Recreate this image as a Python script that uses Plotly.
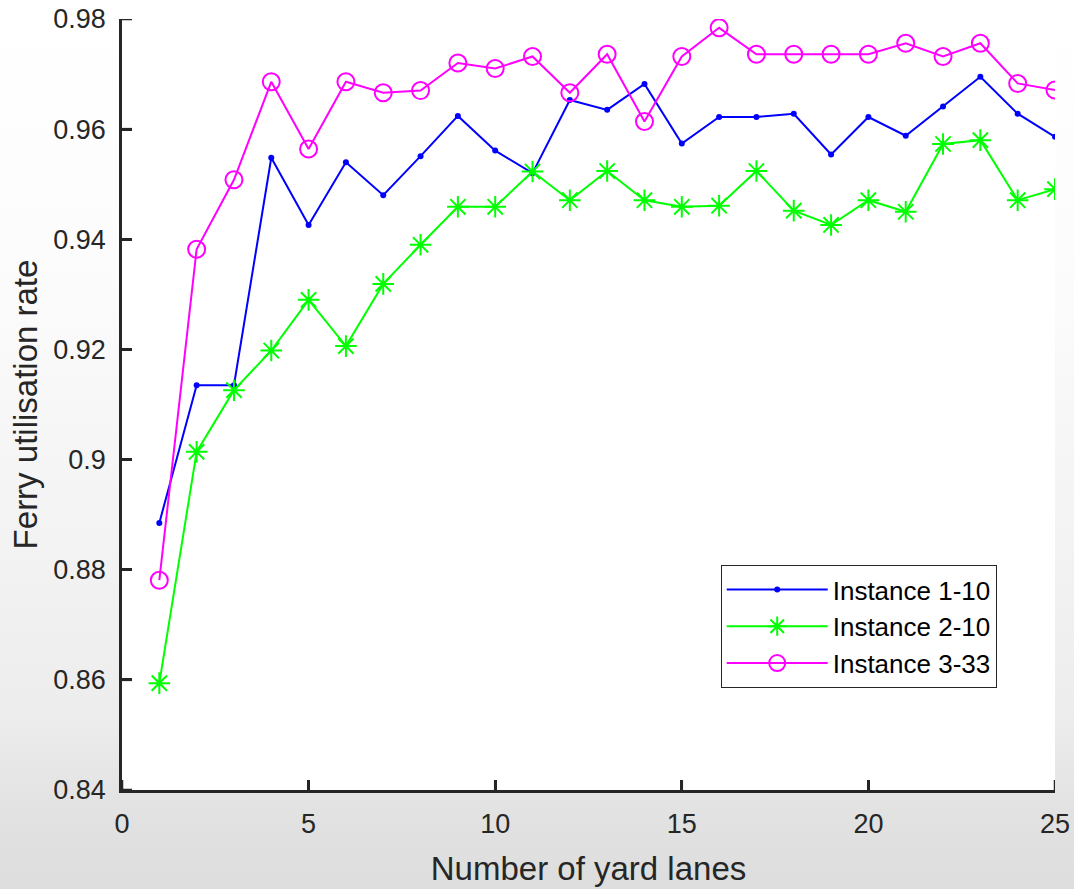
import base64
import plotly.graph_objects as go

lanes = list(range(1, 26))
instance_1_10 = [0.8885, 0.9135, 0.9135, 0.9548, 0.9426, 0.9540, 0.9480, 0.9551, 0.9624, 0.9561,
                 0.9520, 0.9653, 0.9635, 0.9682, 0.9574, 0.9622, 0.9622, 0.9628, 0.9554, 0.9622,
                 0.9588, 0.9641, 0.9695, 0.9628, 0.9586]
instance_2_10 = [0.8594, 0.9014, 0.9126, 0.9198, 0.9290, 0.9206, 0.9319, 0.9390, 0.9459, 0.9459,
                 0.9523, 0.9471, 0.9524, 0.9471, 0.9459, 0.9461, 0.9524, 0.9452, 0.9426, 0.9471,
                 0.9450, 0.9573, 0.9580, 0.9471, 0.9491]
instance_3_33 = [0.8781, 0.9382, 0.9508, 0.9686, 0.9564, 0.9686, 0.9666, 0.9670, 0.9720, 0.9710,
                 0.9732, 0.9666, 0.9736, 0.9614, 0.9732, 0.9784, 0.9736, 0.9736, 0.9736, 0.9736,
                 0.9756, 0.9732, 0.9756, 0.9683, 0.9671]
series_names = ["Instance 1-10", "Instance 2-10", "Instance 3-33"]
y_ticks = [0.84, 0.86, 0.88, 0.90, 0.92, 0.94, 0.96, 0.98]
y_tick_labels = ["0.84", "0.86", "0.88", "0.9", "0.92", "0.94", "0.96", "0.98"]
x_ticks = [0, 5, 10, 15, 20, 25]

FONT = "Liberation Sans, Arial, Helvetica, sans-serif"
AX = "#262626"
AXW = 2.5

fig = go.Figure()
fig.add_trace(go.Scatter(x=lanes, y=instance_1_10, name=series_names[0], mode="lines+markers",
                         line=dict(color="#0000ff", width=2),
                         marker=dict(symbol="circle", size=6, color="#0000ff")))
fig.add_trace(go.Scatter(x=lanes, y=instance_2_10, name=series_names[1], mode="lines+markers",
                         line=dict(color="#00ff00", width=2),
                         marker=dict(symbol="asterisk-open", size=18, color="#00ff00",
                                     line=dict(color="#00ff00", width=2))))
fig.add_trace(go.Scatter(x=lanes, y=instance_3_33, name=series_names[2], mode="lines+markers",
                         line=dict(color="#ff00ff", width=2),
                         marker=dict(symbol="circle-open", size=17, color="#ff00ff",
                                     line=dict(color="#ff00ff", width=2))))

W, H = 1074, 889
ml, mr, mt, mb = 122, 19, 19, 99
pw, ph = W - ml - mr, H - mt - mb
pad = 2  # keep the gradient off the axis lines (left and bottom only)
TICKLEN = 10

hole = f"M{ml - pad} {mt}V{H - mb + pad}H{W - mr}V{mt}Z"
svg = (f'<svg xmlns="http://www.w3.org/2000/svg" width="{W}" height="{H}" '
       f'viewBox="0 0 {W} {H}" preserveAspectRatio="none">'
       f'<defs><linearGradient id="g" gradientUnits="userSpaceOnUse" x1="0" y1="0" x2="0" y2="{H}">'
       '<stop offset="0" stop-color="#ffffff"/><stop offset="0.3" stop-color="#fcfcfc"/>'
       '<stop offset="0.8" stop-color="#ededed"/><stop offset="0.9" stop-color="#e2e3e2"/>'
       '<stop offset="1" stop-color="#dcdddc"/>'
       '</linearGradient></defs>'
       f'<path fill-rule="evenodd" fill="url(#g)" d="M0 0H{W}V{H}H0Z{hole}"/></svg>')
src = "data:image/svg+xml;base64," + base64.b64encode(svg.encode()).decode()

# inward tick marks, drawn from the tick value lists
tick_shapes = []
for xv in x_ticks:
    tick_shapes.append(dict(type="line", xref="x", yref="paper", x0=xv, x1=xv,
                            y0=0, y1=TICKLEN / ph, line=dict(color=AX, width=AXW), layer="above"))
for yv in y_ticks:
    tick_shapes.append(dict(type="line", xref="paper", yref="y", x0=0, x1=TICKLEN / pw,
                            y0=yv, y1=yv, line=dict(color=AX, width=AXW), layer="above"))

fig.update_layout(
    width=W, height=H,
    margin=dict(l=ml, r=mr, t=mt, b=mb, autoexpand=False),
    paper_bgcolor="#f4f4f4",
    plot_bgcolor="white",
    font=dict(family=FONT, color=AX, size=26),
    images=[dict(source=src, xref="paper", yref="paper",
                 x=-ml / pw, y=1 + mt / ph, sizex=W / pw, sizey=H / ph,
                 xanchor="left", yanchor="top", sizing="stretch", layer="below")],
    shapes=tick_shapes,
    showlegend=True,
    legend=dict(x=0.6417, y=0.2918, xanchor="left", yanchor="top",
                bgcolor="white", bordercolor=AX, borderwidth=1,
                font=dict(family=FONT, size=26, color="black"),
                itemwidth=101, tracegroupgap=0),
    xaxis=dict(range=[0, 25], tickmode="array", tickvals=x_ticks, ticks="inside",
               ticklen=TICKLEN, tickwidth=AXW, tickcolor=AX, showline=True, linecolor=AX,
               linewidth=AXW, showgrid=False, zeroline=False, tickfont=dict(size=27, color=AX),
               ticklabelstandoff=8, automargin=False,
               title=dict(text="Number of yard lanes", font=dict(size=33, color=AX), standoff=19)),
    yaxis=dict(range=[0.84, 0.98], tickmode="array", tickvals=y_ticks, ticktext=y_tick_labels,
               ticks="inside", ticklen=TICKLEN, tickwidth=AXW, tickcolor=AX, showline=True,
               linecolor=AX, linewidth=AXW, showgrid=False, zeroline=False,
               tickfont=dict(size=27, color=AX), ticklabelstandoff=8, automargin=False,
               title=dict(text="Ferry utilisation rate", font=dict(size=33, color=AX), standoff=6)),
)

fig.write_html("out.html", config={"displayModeBar": False},
               post_script="document.body.style.margin='0';document.body.style.overflow='hidden';")
